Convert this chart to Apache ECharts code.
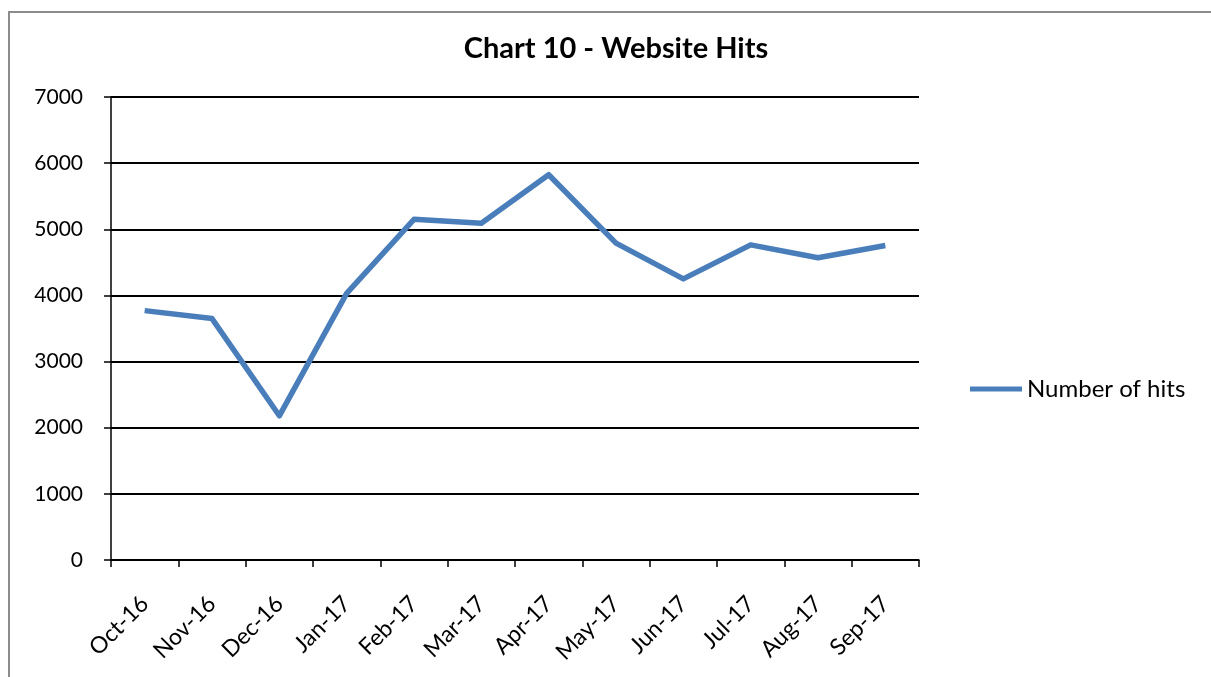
<!DOCTYPE html>
<html>
<head>
<meta charset="utf-8">
<script src="https://cdn.jsdelivr.net/npm/echarts@6/dist/echarts.min.js"></script>
<style>html,body{margin:0;padding:0;background:#fff}#c{width:1211px;height:677px}</style>
</head>
<body>
<div id="c"></div>
<script>
const categories = ['Oct-16','Nov-16','Dec-16','Jan-17','Feb-17','Mar-17','Apr-17','May-17','Jun-17','Jul-17','Aug-17','Sep-17'];
const hits = [3770, 3650, 2180, 4030, 5150, 5090, 5825, 4790, 4250, 4765, 4570, 4755];
const yTicks = { min: 0, max: 7000, interval: 1000 };
const seriesName = 'Number of hits';
const titleText = 'Chart 10 - Website Hits';

const FONT = 'Lato, "Open Sans", sans-serif';
const chart = echarts.init(document.getElementById('c'), null, { renderer: 'canvas' });
chart.setOption({
  animation: false,
  backgroundColor: '#fff',
  graphic: [{
    type: 'rect', silent: true, z: -1,
    shape: { x: 9, y: 12, width: 1400, height: 800 },
    style: { fill: '#fff', stroke: '#8c8c8c', lineWidth: 2 }
  }],
  title: {
    text: titleText, left: 611, top: 29, textAlign: 'center',
    textStyle: { fontFamily: FONT, fontWeight: 'bold', fontSize: 29, color: '#000' }
  },
  legend: {
    left: 965, top: 372, itemWidth: 52, itemHeight: 5, itemGap: 10,
    icon: 'rect',
    textStyle: { fontFamily: FONT, fontSize: 24, color: '#000', padding: [0,0,0,0] },
    data: [seriesName]
  },
  grid: { left: 111, right: 292, top: 97, bottom: 117, containLabel: false },
  xAxis: {
    type: 'category', data: categories, boundaryGap: true,
    axisLine: { lineStyle: { color: '#000', width: 1.5 } },
    axisTick: { show: true, length: 7, lineStyle: { color: '#000', width: 1.5 } },
    axisLabel: { rotate: 45, fontFamily: FONT, fontSize: 23, color: '#000', margin: 40, interval: 0 }
  },
  yAxis: {
    type: 'value', min: yTicks.min, max: yTicks.max, interval: yTicks.interval,
    axisLine: { show: true, lineStyle: { color: '#000', width: 1.5 } },
    axisTick: { show: true, length: 7, lineStyle: { color: '#000', width: 1.5 } },
    splitLine: { lineStyle: { color: '#000', width: 1.8 } },
    axisLabel: { fontFamily: FONT, fontSize: 21, color: '#000', margin: 28, formatter: v => String(v) }
  },
  series: [{
    name: seriesName, type: 'line', data: hits,
    symbol: 'none', smooth: false,
    lineStyle: { color: '#4a7ebb', width: 5.5, join: 'round' },
    itemStyle: { color: '#4a7ebb' }
  }]
});
</script>
</body>
</html>
